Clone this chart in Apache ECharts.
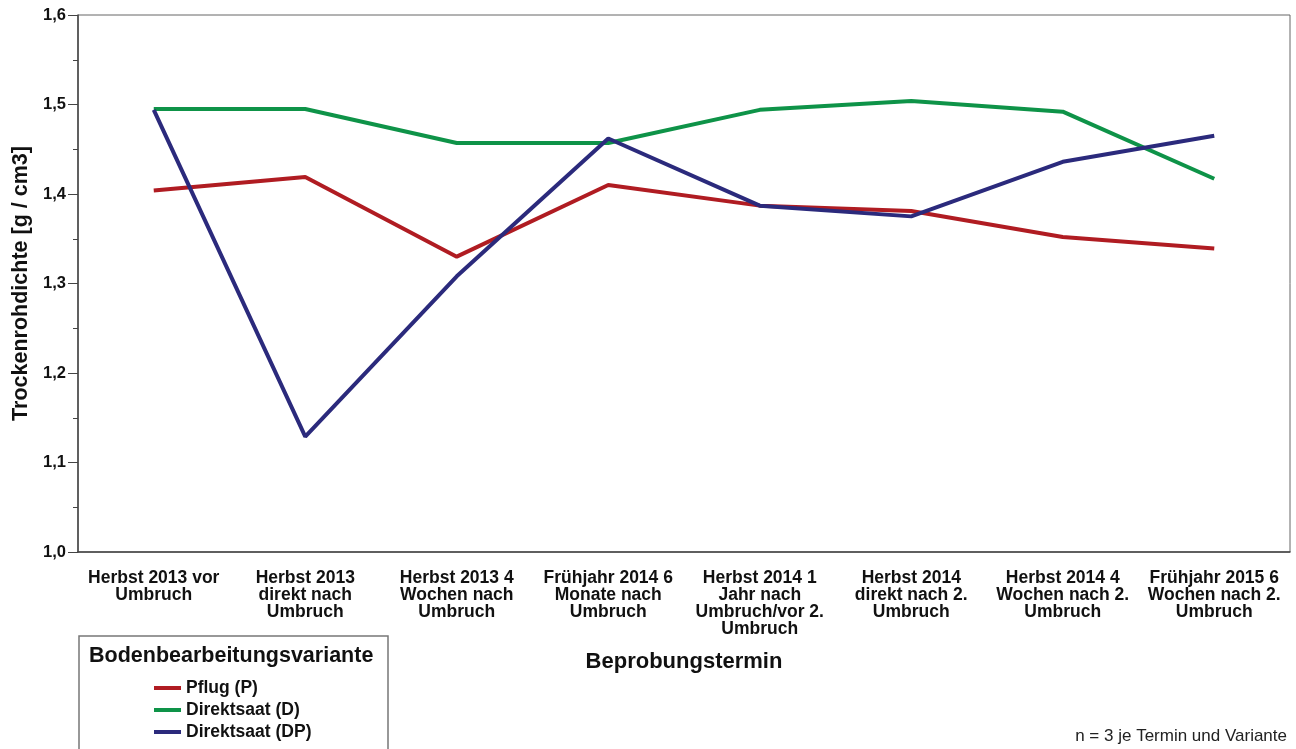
<!DOCTYPE html>
<html>
<head>
<meta charset="utf-8">
<script src="https://cdn.jsdelivr.net/npm/echarts@6/dist/echarts.min.js"></script>
<style>
  html, body { margin: 0; padding: 0; background: #fff; }
  #chart { width: 1296px; height: 749px; }
</style>
</head>
<body>
<div id="chart"></div>
<script>
  // Beprobungstermine
  const termine = [
    'Herbst 2013 vor\nUmbruch',
    'Herbst 2013\ndirekt nach\nUmbruch',
    'Herbst 2013 4\nWochen nach\nUmbruch',
    'Frühjahr 2014 6\nMonate nach\nUmbruch',
    'Herbst 2014 1\nJahr nach\nUmbruch/vor 2.\nUmbruch',
    'Herbst 2014\ndirekt nach 2.\nUmbruch',
    'Herbst 2014 4\nWochen nach 2.\nUmbruch',
    'Frühjahr 2015 6\nWochen nach 2.\nUmbruch',
  ];

  // Trockenrohdichte [g / cm3]
  const pflug = [1.404, 1.419, 1.330, 1.410, 1.387, 1.381, 1.352, 1.339];
  const direktsaatD = [1.495, 1.495, 1.457, 1.457, 1.494, 1.504, 1.492, 1.417];
  const direktsaatDP = [1.494, 1.129, 1.308, 1.462, 1.387, 1.375, 1.436, 1.465];

  const yTicks = [1.0, 1.1, 1.2, 1.3, 1.4, 1.5, 1.6];

  const chart = echarts.init(document.getElementById('chart'));
  const font = 'Arial, "Liberation Sans", sans-serif';

  const mkLine = (name, data, color) => ({
    name: name,
    type: 'line',
    data: data,
    symbol: 'none',
    lineStyle: { width: 4, color: color },
    itemStyle: { color: color },
    z: 3,
  });

  const option = {
    backgroundColor: '#fff',
    animation: false,
    textStyle: { fontFamily: font },
    grid: {
      left: 78,
      right: 6,
      top: 15,
      bottom: 197,
      show: true,
      borderColor: '#666',
      borderWidth: 1,
    },
    xAxis: {
      type: 'category',
      data: termine,
      boundaryGap: true,
      name: 'Beprobungstermin',
      nameLocation: 'middle',
      nameGap: 99,
      nameTextStyle: { fontSize: 22, fontWeight: 'bold', color: '#111' },
      axisLine: { lineStyle: { color: '#444', width: 1.5 } },
      axisTick: { alignWithLabel: true, length: 10, lineStyle: { color: '#444' } },
      axisLabel: {
        interval: 0,
        margin: 18,
        fontSize: 17.5,
        fontWeight: 'bold',
        color: '#111',
        lineHeight: 17,
        align: 'center',
      },
      splitLine: { show: false },
    },
    yAxis: {
      type: 'value',
      min: yTicks[0],
      max: yTicks[yTicks.length - 1],
      interval: 0.1,
      name: 'Trockenrohdichte [g / cm3]',
      nameLocation: 'middle',
      nameGap: 44,
      nameTextStyle: { fontSize: 21.5, fontWeight: 'bold', color: '#111' },
      axisLine: { show: true, lineStyle: { color: '#444', width: 1.5 } },
      axisTick: { show: true, length: 10, lineStyle: { color: '#444' } },
      minorTick: { show: true, splitNumber: 2, length: 5, lineStyle: { color: '#444' } },
      axisLabel: {
        fontSize: 16.5,
        fontWeight: 'bold',
        color: '#111',
        margin: 12,
        formatter: (v) => v.toFixed(1).replace('.', ','),
      },
      splitLine: { show: false },
    },
    legend: {
      orient: 'vertical',
      left: 149,
      top: 672,
      itemWidth: 27,
      itemHeight: 4,
      itemGap: 0,
      icon: 'rect',
      textStyle: { fontSize: 17.5, fontWeight: 'bold', color: '#111', lineHeight: 22 },
      data: ['Pflug (P)', 'Direktsaat (D)', 'Direktsaat (DP)'],
    },
    graphic: [
      {
        type: 'rect',
        shape: { x: 79, y: 636, width: 309, height: 130 },
        style: { fill: 'none', stroke: '#777', lineWidth: 1.5 },
      },
      {
        type: 'text',
        left: 89,
        top: 645,
        style: {
          text: 'Bodenbearbeitungsvariante',
          font: 'bold 21.5px ' + font,
          fill: '#111',
        },
      },
      {
        type: 'text',
        right: 9,
        top: 728,
        style: {
          text: 'n = 3 je Termin und Variante',
          font: '17px ' + font,
          fill: '#222',
        },
      },
    ],
    series: [
      mkLine('Pflug (P)', pflug, '#b01c22'),
      mkLine('Direktsaat (D)', direktsaatD, '#0e9348'),
      mkLine('Direktsaat (DP)', direktsaatDP, '#2b2a7c'),
    ],
  };

  chart.setOption(option);
</script>
</body>
</html>
